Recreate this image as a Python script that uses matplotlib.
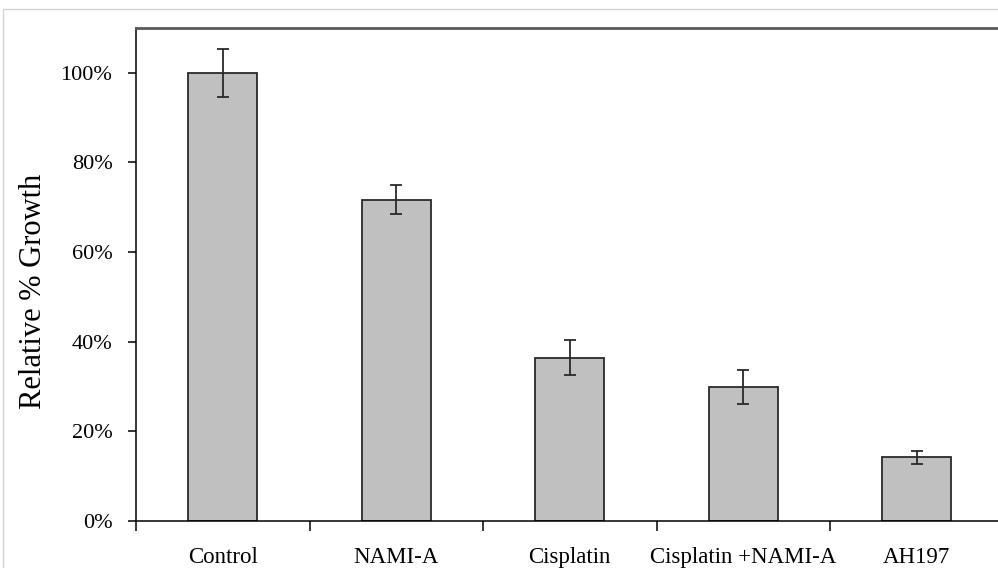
import numpy as np
import matplotlib
matplotlib.use("Agg")
import matplotlib.pyplot as plt
from matplotlib.patches import Rectangle
from matplotlib.ticker import FuncFormatter, MultipleLocator, FixedLocator

# Relative growth per treatment, with standard error
groups = ["Control", "NAMI-A", "Cisplatin", "Cisplatin +NAMI-A", "AH197"]
growth = [1.000, 0.717, 0.364, 0.299, 0.142]
errors = [0.053, 0.033, 0.039, 0.038, 0.014]

plt.rcParams["font.family"] = ["Liberation Serif", "DejaVu Serif"]

W, H = 998, 568
fig = plt.figure(figsize=(W / 100, H / 100), dpi=100)

# thin light frame around the figure
fig.patches.append(Rectangle((3 / W, -0.1), 1.2, 1 - 9 / H + 0.1,
                             transform=fig.transFigure, fill=False,
                             edgecolor="#d4d4d4", linewidth=1.0))

ax = fig.add_axes([136 / W, 47 / H, 867.5 / W, 493 / H])

x = np.arange(len(groups))
ax.bar(x, growth, width=0.4, color="#c0c0c0", edgecolor="#2a2a2a", linewidth=1.3)
ax.errorbar(x, growth, yerr=errors, fmt="none", ecolor="#2a2a2a",
            elinewidth=1.3, capsize=4, capthick=1.3)

ax.set_xlim(-0.5, len(groups) - 0.5)
ax.set_ylim(0, 1.1)

ax.yaxis.set_major_locator(MultipleLocator(0.2))
ax.yaxis.set_major_formatter(FuncFormatter(lambda v, _: f"{v * 100:.0f}%"))
ax.tick_params(axis="y", direction="out", length=6, width=1.1, pad=11,
               labelsize=16)

# category labels centred on bars, ticks between categories
ax.set_xticks(x)
ax.set_xticklabels(groups)
ax.xaxis.set_minor_locator(FixedLocator(np.arange(-0.5, len(groups), 1.0)))
ax.tick_params(axis="x", which="major", length=0, pad=19, labelsize=16.5)
ax.tick_params(axis="x", which="minor", direction="out", length=7, width=1.1)

ax.set_ylabel("Relative % Growth", fontsize=22)
ax.yaxis.set_label_coords(-0.102, 0.465)

ax.spines["left"].set_color("black")
ax.spines["left"].set_linewidth(1.1)
ax.spines["bottom"].set_color("black")
ax.spines["bottom"].set_linewidth(1.1)
ax.spines["top"].set_color("#595959")
ax.spines["top"].set_linewidth(2.0)
ax.spines["right"].set_visible(False)

fig.savefig("out.png", dpi=100)
